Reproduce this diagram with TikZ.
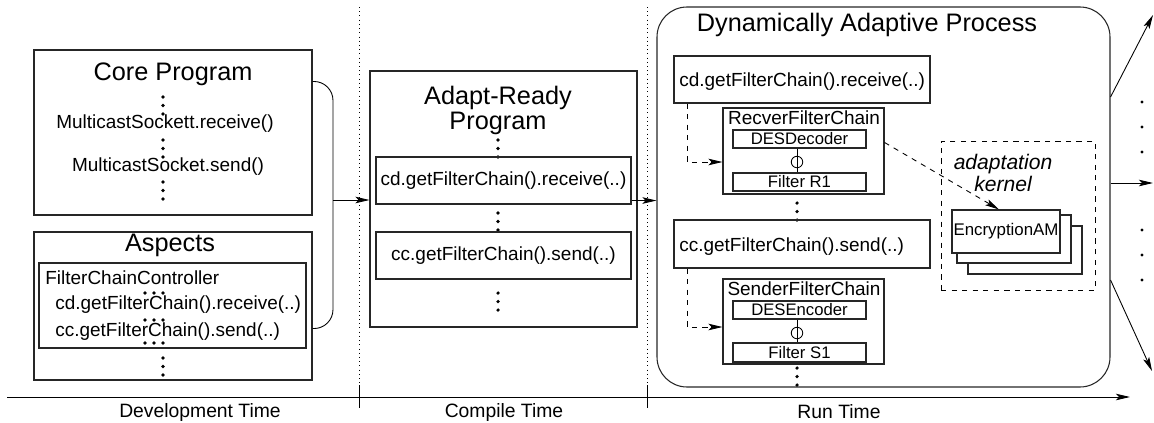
\documentclass[tikz,border=0pt]{standalone}
\usepackage{fontspec}
\setmainfont{Liberation Sans}
\usetikzlibrary{arrows.meta,fit,positioning}
\newcommand\vdt[2]{\foreach \k in {0,1,2} \fill (#1,#2+8.5*\k) circle (1pt);}
\newcommand\hdt[2]{\foreach \k in {0,1,2} \fill (#1+9*\k,#2) circle (1pt);}
\begin{document}
\begin{tikzpicture}[x=0.02cm,y=-0.02cm]
\tikzstyle{every node}=[inner sep=0pt]
\tikzstyle{box}=[draw=black!85, inner sep=0pt, line width=0.6pt]
\tikzstyle{big}=[font=\fontsize{14.4}{14.4}\selectfont]
\tikzstyle{code}=[font=\fontsize{10.8}{13}\selectfont]
\tikzstyle{small}=[font=\fontsize{9.5}{11}\selectfont]
\tikzstyle{joint}=[draw, circle, minimum size=0.23cm, inner sep=0pt, line width=0.5pt]
\tikzstyle{flow}=[-{Stealth[length=2.8mm,width=1.3mm,inset=0.6mm]}, line width=0.5pt]
\tikzstyle{dflow}=[flow, dashed]
\tikzstyle{phase}=[dotted, line width=0.4pt]
\useasboundingbox (0,0) rectangle (1154,423);

\coordinate (ax0) at (7,397);
\coordinate (ax1) at (1130,397);
\draw[flow] (ax0) -- (ax1);
\foreach \x in {359,647} {\draw[line width=0.5pt] (\x,385) -- (\x,408); \draw[phase] (\x,7) -- (\x,385);}
\node[font=\fontsize{11}{13}\selectfont] (devt) at (200,412) {Development Time};
\node[font=\fontsize{11}{13}\selectfont] (cmpt) at (504,412) {Compile Time};
\node[font=\fontsize{11}{13}\selectfont] (runt) at (839,412) {Run Time};

\node[box, fit={(34,50) (312,215)}] (core) {};
\node[big] (coret) at (173,74) {Core Program};
\vdt{163}{97}
\node[code] (mrecv) at (165,124) {MulticastSockett.receive()};
\vdt{163}{140}
\node[code] (msend) at (168,167) {MulticastSocket.send()};
\vdt{163}{182}

\node[box, fit={(34,232) (312,380)}] (asp) {};
\node[big] (aspt) at (170,245) {Aspects};
\node[box, fit={(39,263) (306,348)}] (fcc) {};
\node[code, anchor=west] (fcct) at (45,278) {FilterChainController};
\node[code, anchor=west] (frecv) at (55,305) {cd.getFilterChain().receive(..)};
\node[code, anchor=west] (fsend) at (55,332) {cc.getFilterChain().send(..)};
\hdt{145}{293}
\hdt{145}{320}
\hdt{145}{343}
\vdt{163}{358}

\coordinate (b1) at (333,200);
\draw[line width=0.5pt, rounded corners=0.38cm] ([yshift=-0.64cm]core.north east) -| (b1) |- ([yshift=1.04cm]asp.south east);

\node[box, fit={(370,71) (637,327)}] (arp) {};
\node[big, align=center, font=\fontsize{14.4}{14.2}\selectfont] (arpt) at (498,110) {Adapt-Ready\\Program};
\vdt{498}{140}
\node[box, fit={(376,157) (631,204)}] (arecv) {};
\node[code] at (arecv) {cd.getFilterChain().receive(..)};
\vdt{498}{213}
\node[box, fit={(376,232) (631,279)}] (asend) {};
\node[code] at (asend) {cc.getFilterChain().send(..)};
\vdt{498}{293}
\draw[flow] (b1) -- (b1 -| arp.west);

\node[box, rounded corners=0.6cm, fit={(657,7) (1110,387)}] (dap) {};
\node[big] (dapt) at (867,25) {Dynamically Adaptive Process};
\draw[flow] ([yshift=0.08cm]arecv.south east) -- ([yshift=0.08cm]arecv.south east -| dap.west);

\coordinate (dx) at (687,0);
\node[box, fit={(674,56) (930,103)}] (drecv) {};
\node[code, anchor=west] at (679,82) {cd.getFilterChain().receive(..)};
\node[box, fit={(723,108) (884,194)}] (rfc) {};
\node[code] at (804,118) {RecverFilterChain};
\node[box, fit={(733,130) (866,148)}] (ddec) {};
\node[small] at (ddec) {DESDecoder};
\node[box, fit={(733,173) (866,191)}] (fr1) {};
\node[small] at (fr1) {Filter R1};
\node[joint] (j1) at (797,162) {};
\draw[line width=0.5pt] (j1 |- ddec.south) -- (j1 |- fr1.north);
\draw[dflow] (drecv.south -| dx) |- (rfc.west |- j1);
\vdt{797}{203}

\node[box, fit={(674,220) (930,268)}] (dsend) {};
\node[code, anchor=west] at (679,247) {cc.getFilterChain().send(..)};
\node[box, fit={(723,279) (884,364)}] (sfc) {};
\node[code] at (804,289) {SenderFilterChain};
\node[box, fit={(733,301) (866,319)}] (denc) {};
\node[small] at (denc) {DESEncoder};
\node[box, fit={(733,343) (866,362)}] (fs1) {};
\node[small] at (fs1) {Filter S1};
\node[joint] (j2) at (797,333) {};
\draw[line width=0.5pt] (j2 |- denc.south) -- (j2 |- fs1.north);
\coordinate (a2) at (723,327);
\draw[dflow] (dsend.south -| dx) |- (sfc.west |- a2);
\vdt{797}{368}

\node[draw, dashed, line width=0.5pt, fit={(941,141) (1095,290)}] (kern) {};
\node[align=center, font=\fontsize{12}{13}\selectfont\itshape] (kernt) at (1003,173) {adaptation\\kernel};
\node[box, fill=white, fit={(968,226) (1082,274)}] (am3) {};
\node[box, fill=white, fit={(957,215) (1071,263)}] (am2) {};
\node[box, fill=white, fit={(952,210) (1060,253)}] (am1) {};
\node[font=\fontsize{9.6}{11}\selectfont] at (am1) {EncryptionAM};
\draw[dflow] ([yshift=-0.7cm]rfc.north east) -- ([xshift=-0.14cm]am1.north);

\coordinate (o1) at (1153,15);
\coordinate (o2) at (1153,183);
\coordinate (o3) at (1152,371);
\draw[flow] ([yshift=2cm]dap.east) -- (o1);
\draw[flow] (dap.east |- o2) -- (o2);
\draw[flow] ([yshift=-1.66cm]dap.east) -- (o3);
\foreach \y in {102,127,152,230,255,280} \fill (1142,\y) circle (0.9pt);
\end{tikzpicture}
\end{document}
